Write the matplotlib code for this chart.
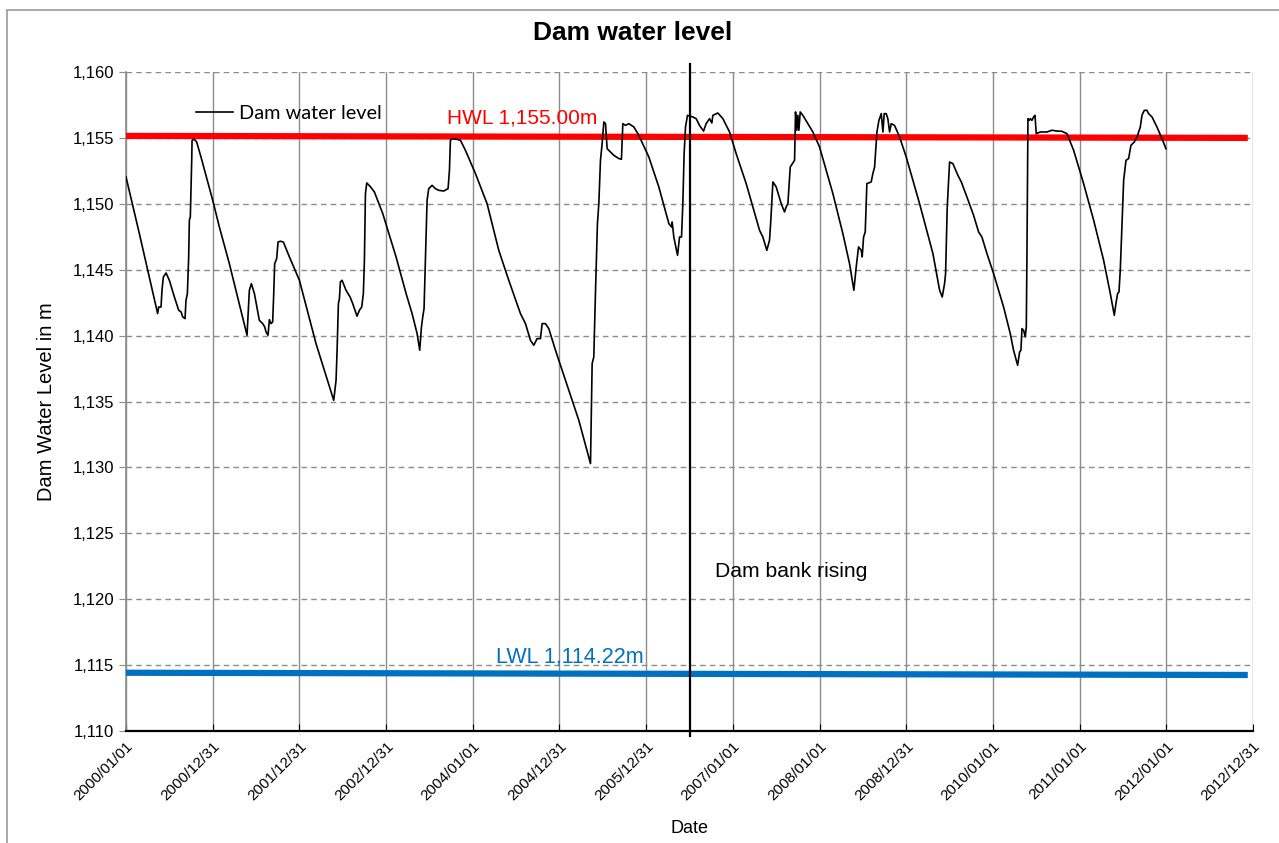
import matplotlib
matplotlib.use("Agg")
import matplotlib.pyplot as plt
from matplotlib.patches import Rectangle
from matplotlib.ticker import FuncFormatter

# x in years since 2000/01/01 (one tick = one year), y in metres
level_t = [0, 0.154, 0.365, 0.377, 0.404, 0.415, 0.431, 0.462, 0.5, 0.558, 0.608, 0.635,
           0.654, 0.681, 0.692, 0.708, 0.723, 0.731, 0.742, 0.758, 0.762, 0.788, 0.815,
           0.865, 1.0, 1.077, 1.192, 1.396, 1.423, 1.446, 1.481, 1.538, 1.577, 1.6, 1.615,
           1.638, 1.654, 1.673, 1.692, 1.704, 1.715, 1.738, 1.754, 1.781, 1.815, 1.885,
           2.0, 2.192, 2.396, 2.423, 2.435, 2.45, 2.462, 2.473, 2.492, 2.538, 2.585, 2.615,
           2.665, 2.692, 2.719, 2.738, 2.75, 2.762, 2.777, 2.815, 2.865, 2.962, 3.115,
           3.231, 3.3, 3.358, 3.388, 3.408, 3.423, 3.438, 3.454, 3.473, 3.492, 3.531, 3.569,
           3.608, 3.665, 3.715, 3.731, 3.742, 3.762, 3.819, 3.858, 3.915, 4.031, 4.165,
           4.3, 4.415, 4.55, 4.608, 4.665, 4.704, 4.742, 4.781, 4.8, 4.838, 4.877, 4.954,
           5.069, 5.223, 5.358, 5.377, 5.396, 5.415, 5.438, 5.454, 5.473, 5.492, 5.512,
           5.531, 5.55, 5.588, 5.627, 5.685, 5.715, 5.731, 5.762, 5.8, 5.858, 5.915, 6.031,
           6.146, 6.262, 6.292, 6.3, 6.319, 6.362, 6.385, 6.408, 6.423, 6.438, 6.454,
           6.477, 6.538, 6.577, 6.615, 6.662, 6.692, 6.731, 6.758, 6.769, 6.827, 6.885,
           6.962, 7.038, 7.154, 7.308, 7.346, 7.392, 7.423, 7.438, 7.462, 7.5, 7.558,
           7.596, 7.615, 7.635, 7.662, 7.712, 7.723, 7.738, 7.75, 7.762, 7.777, 7.808,
           7.865, 7.923, 8.0, 8.154, 8.269, 8.346, 8.396, 8.423, 8.45, 8.481, 8.492, 8.508,
           8.527, 8.546, 8.596, 8.615, 8.635, 8.662, 8.685, 8.712, 8.731, 8.746, 8.769,
           8.788, 8.808, 8.827, 8.865, 8.923, 9.0, 9.154, 9.308, 9.385, 9.415, 9.442,
           9.454, 9.473, 9.5, 9.538, 9.596, 9.635, 9.7, 9.777, 9.835, 9.873, 9.931, 10.008,
           10.123, 10.2, 10.238, 10.285, 10.308, 10.323, 10.335, 10.354, 10.373, 10.385,
           10.392, 10.404, 10.419, 10.431, 10.45, 10.469, 10.485, 10.5, 10.546, 10.623,
           10.681, 10.738, 10.796, 10.854, 10.931, 11.046, 11.162, 11.277, 11.354, 11.4,
           11.419, 11.438, 11.454, 11.469, 11.488, 11.508, 11.535, 11.565, 11.592, 11.631,
           11.662, 11.7, 11.719, 11.746, 11.777, 11.796, 11.835, 11.892, 11.95, 11.996]
level_m = [1152.04, 1147.74, 1141.67, 1142.17, 1142.17, 1143.44, 1144.45, 1144.75, 1144.2,
           1142.93, 1141.92, 1141.8, 1141.42, 1141.29, 1142.68, 1143.19, 1145.97, 1148.75,
           1149.0, 1153.3, 1154.82, 1154.89, 1154.69, 1153.55, 1150.27, 1148.24, 1145.46,
           1140.03, 1143.44, 1143.94, 1143.19, 1141.16, 1140.91, 1140.66, 1140.28, 1140.03,
           1141.21, 1140.91, 1141.04, 1143.19, 1145.46, 1145.84, 1147.1, 1147.16, 1147.1,
           1145.97, 1144.2, 1139.39, 1135.09, 1136.61, 1138.89, 1142.43, 1142.81, 1144.07,
           1144.2, 1143.44, 1142.93, 1142.43, 1141.47, 1141.92, 1142.17, 1143.19, 1145.71,
           1150.77, 1151.58, 1151.33, 1150.9, 1149.25, 1145.97, 1143.19, 1141.67, 1140.15,
           1138.89, 1140.66, 1141.42, 1142.05, 1145.71, 1150.27, 1151.15, 1151.4, 1151.15,
           1151.02, 1150.97, 1151.15, 1152.54, 1154.82, 1154.94, 1154.89, 1154.82, 1154.06,
           1152.29, 1150.01, 1146.47, 1144.2, 1141.67, 1140.91, 1139.65, 1139.27, 1139.77,
           1139.77, 1140.91, 1140.91, 1140.53, 1138.89, 1136.61, 1133.58, 1130.29, 1137.88,
           1138.38, 1143.19, 1148.5, 1150.01, 1153.3, 1154.56, 1156.21, 1156.08, 1154.18,
           1153.93, 1153.68, 1153.43, 1153.38, 1156.08, 1155.95, 1156.08, 1155.83, 1155.2,
           1153.55, 1151.28, 1148.5, 1148.24, 1148.62, 1147.48, 1146.09, 1147.48, 1147.48,
           1150.01, 1153.81, 1155.83, 1156.71, 1156.59, 1156.46, 1155.95, 1155.52, 1156.08,
           1156.46, 1156.13, 1156.71, 1156.89, 1156.46, 1155.45, 1153.81, 1151.53, 1147.99,
           1147.48, 1146.47, 1147.23, 1148.75, 1151.66, 1151.28, 1150.01, 1149.38, 1149.76,
           1150.01, 1152.79, 1153.3, 1156.97, 1155.58, 1156.71, 1155.58, 1156.97, 1156.71,
           1156.08, 1155.45, 1154.31, 1150.77, 1147.74, 1145.46, 1143.44, 1145.21, 1146.73,
           1146.47, 1145.97, 1147.48, 1147.86, 1151.53, 1151.66, 1152.29, 1152.79, 1155.45,
           1156.33, 1156.84, 1155.45, 1156.84, 1156.84, 1156.46, 1155.45, 1156.08, 1155.95,
           1155.07, 1153.55, 1150.01, 1146.22, 1143.44, 1142.93, 1143.94, 1144.7, 1149.76,
           1153.17, 1153.05, 1152.16, 1151.66, 1150.52, 1149.13, 1147.86, 1147.48, 1146.22,
           1144.7, 1142.17, 1140.15, 1138.89, 1137.75, 1138.76, 1138.89, 1140.53, 1140.4,
           1139.9, 1140.66, 1145.71, 1156.46, 1156.33, 1156.46, 1156.33, 1156.59, 1156.71,
           1155.32, 1155.45, 1155.45, 1155.58, 1155.52, 1155.5, 1155.32, 1154.06, 1151.53,
           1148.75, 1145.71, 1143.19, 1141.54, 1142.43, 1143.19, 1143.31, 1144.96, 1148.24,
           1151.78, 1153.3, 1153.43, 1154.44, 1154.69, 1155.07, 1155.83, 1156.71, 1157.09,
           1157.09, 1156.84, 1156.59, 1155.83, 1154.94, 1154.18]

hwl_t = [0, 12.94]
hwl_m = [1155.15, 1155.0]
lwl_t = [0, 12.94]
lwl_m = [1114.42, 1114.25]
bank_rising_t = 6.5

tick_labels = ['2000/01/01', '2000/12/31', '2001/12/31', '2002/12/31', '2004/01/01',
               '2004/12/31', '2005/12/31', '2007/01/01', '2008/01/01', '2008/12/31',
               '2010/01/01', '2011/01/01', '2012/01/01', '2012/12/31']

plt.rcParams['font.family'] = ['Liberation Sans', 'DejaVu Sans']

fig = plt.figure(figsize=(12.79, 8.43), dpi=100)
ax = fig.add_axes([126 / 1279, 1 - 731 / 843, 1127 / 1279, 659 / 843])

# chart area border
fig.patches.append(Rectangle((7 / 1279, -0.02), 1.1, 1 - 10 / 843 + 0.02,
                             transform=fig.transFigure, fill=False,
                             edgecolor='#9a9a9a', lw=1.2))

ax.set_xlim(0, 13)
ax.set_ylim(1110, 1160)
ax.set_yticks(range(1110, 1161, 5))
ax.yaxis.set_major_formatter(FuncFormatter(lambda v, p: '{:,.0f}'.format(v)))
ax.set_xticks(range(len(tick_labels)))
ax.set_xticklabels(tick_labels, rotation=45, ha='right', rotation_mode='anchor')

ax.grid(axis='y', color='#8c8c8c', ls=(0, (4, 3)), lw=1)
ax.grid(axis='x', color='#8c8c8c', ls='-', lw=1)
ax.set_axisbelow(True)

for s in ['top', 'right']:
    ax.spines[s].set_visible(False)
ax.spines['left'].set_color('#8c8c8c')
ax.spines['left'].set_linewidth(1.2)
ax.spines['bottom'].set_color('black')
ax.spines['bottom'].set_linewidth(1.6)
ax.tick_params(axis='y', colors='#8c8c8c', labelcolor='black', labelsize=12, length=5)
ax.tick_params(axis='x', colors='black', labelsize=11, length=5, direction='in', pad=6)

ax.plot(hwl_t, hwl_m, color='#ff0000', lw=4.5, solid_capstyle='butt', zorder=3)
ax.plot(lwl_t, lwl_m, color='#0070c0', lw=4.5, solid_capstyle='butt', zorder=3)
line, = ax.plot(level_t, level_m, color='black', lw=1.2, zorder=4, label='Dam water level')
ax.plot([bank_rising_t, bank_rising_t], [1109.6, 1160.6], color='black', lw=1.6,
        clip_on=False, zorder=5)

ax.text(3.70, 1156.5, 'HWL 1,155.00m', color='#ff0000', fontsize=15, va='center')
ax.text(4.27, 1115.6, 'LWL 1,114.22m', color='#0070c0', fontsize=15.5, va='center')
ax.text(6.79, 1122.1, 'Dam bank rising', color='black', fontsize=15.2, va='center')

ax.legend(handles=[line], loc='upper left', bbox_to_anchor=(0.046, 0.977), frameon=False,
          handlelength=1.9, handletextpad=0.3, prop={'family': 'Lato', 'size': 14.3})

fig.text(0.495, 1 - 33 / 843, 'Dam water level', fontsize=19, fontweight='bold',
         ha='center', va='center')
ax.set_xlabel('Date', fontsize=13, labelpad=12)
ax.set_ylabel('Dam Water Level in m', fontsize=14.5, labelpad=12)

fig.savefig('out.png', dpi=100)
